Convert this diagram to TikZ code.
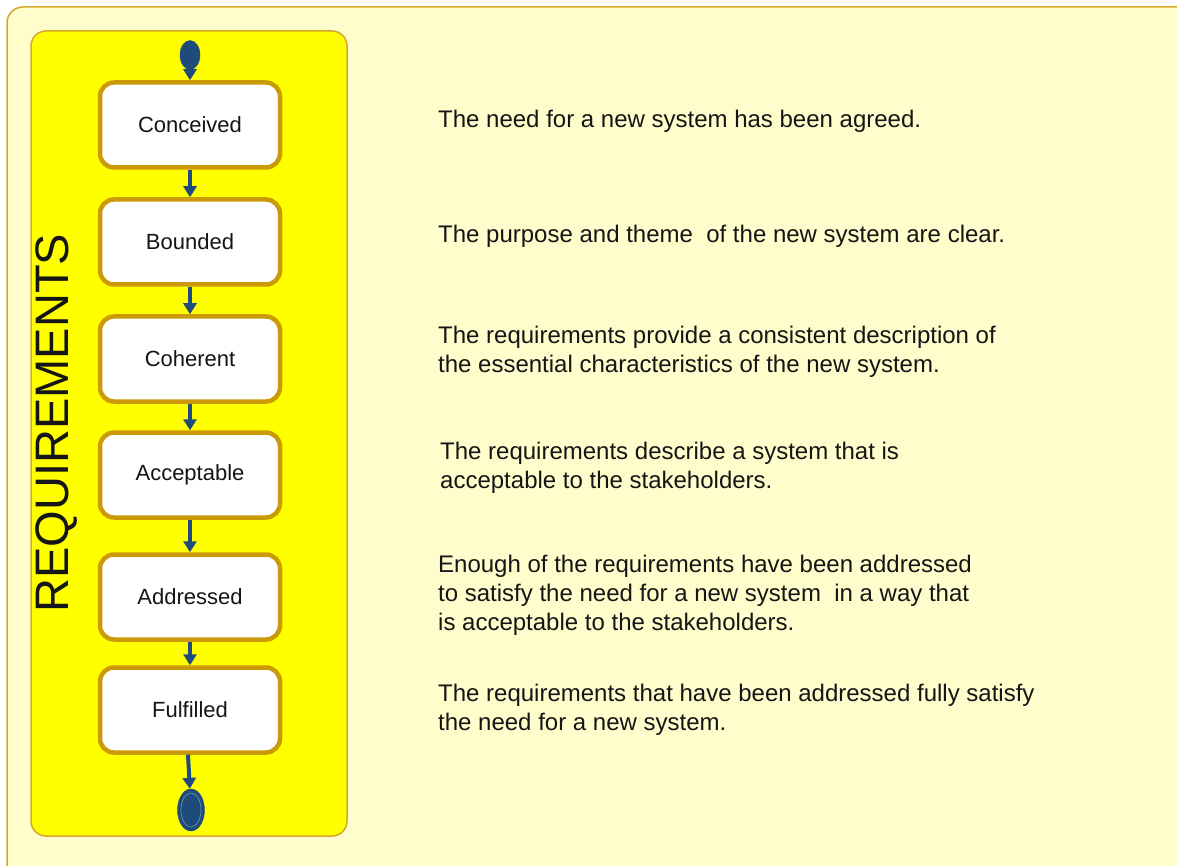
\documentclass[tikz,border=0pt]{standalone}
\usepackage{fontspec}
\setmainfont{Liberation Sans}
\usetikzlibrary{shapes,arrows.meta,positioning}
\definecolor{paper}{HTML}{FFFDCC}
\definecolor{panel}{HTML}{FFFF00}
\definecolor{rim}{HTML}{D6A72A}
\definecolor{boxline}{HTML}{CC9A06}
\definecolor{flow}{HTML}{1F4A7C}
\definecolor{ink}{HTML}{151515}
\tikzstyle{state} = [rectangle, rounded corners=14pt, draw=boxline, line width=4.5pt, fill=white, minimum width=180pt, minimum height=85pt, text=ink, font=\fontsize{22}{26}\selectfont]
\tikzstyle{desc} = [anchor=west, align=left, inner sep=0pt, text=ink, font=\fontsize{24}{29}\selectfont]
\tikzstyle{line} = [draw=flow, line width=4pt, -{Triangle[length=11pt,width=13pt]}]
\tikzstyle{blob} = [ellipse, fill=flow, draw=flow, inner sep=0pt]

\begin{document}
\begin{tikzpicture}[x=1pt, y=-1pt]
	\clip (0,0) rectangle (1177,866);
	\useasboundingbox (0,0) rectangle (1177,866);
	\path [fill=paper, draw=rim, line width=1.5pt, rounded corners=16pt] (7,7) rectangle (1195,885);
	\path [fill=panel, draw=rim, line width=1.5pt, rounded corners=15pt] (31,31) rectangle (347,836);
	\node [rotate=90, text=ink, font=\fontsize{47}{47}\selectfont] (title) at (57,423) {REQUIREMENTS};

	\node [blob, minimum width=20pt, minimum height=29pt] (start) at (190,55) {};
	\node [state] (conceived) at (190,125) {Conceived};
	\node [state] (bounded) at (190,242) {Bounded};
	\node [state] (coherent) at (190,359) {Coherent};
	\node [state] (acceptable) at (190,475) {Acceptable};
	\node [state] (addressed) at (190,597) {Addressed};
	\node [state] (fulfilled) at (190,710) {Fulfilled};
	\node [blob, minimum width=27pt, minimum height=42pt] (stop) at (191,810) {};
	\draw [flow!60!white, line width=0.6pt] (stop.center) ellipse (10pt and 17pt);

	\path [line] (start) -- (conceived);
	\path [line] (conceived) -- (bounded);
	\path [line] (bounded) -- (coherent);
	\path [line] (coherent) -- (acceptable);
	\path [line] (acceptable) -- (addressed);
	\path [line] (addressed) -- (fulfilled);
	\path [line] ([xshift=-2pt]fulfilled.south) -- (stop);

	\node [desc] (agreed) at (438,121) {The need for a new system has been agreed.};
	\node [desc] (clear) at (438,236) {The purpose and theme\ \ of the new system are clear.};
	\node [desc] (consistent) at (438,352) {The requirements provide a consistent description of\\the essential characteristics of the new system.};
	\node [desc] (stakeholders) at (440,468) {The requirements describe a system that is\\acceptable to the stakeholders.};
	\node [desc] (enough) at (438,595) {Enough of the requirements have been addressed\\to satisfy the need for a new system\ \ in a way that\\is acceptable to the stakeholders.};
	\node [desc] (satisfy) at (438,710) {The requirements that have been addressed fully satisfy\\the need for a new system.};
\end{tikzpicture}
\end{document}
